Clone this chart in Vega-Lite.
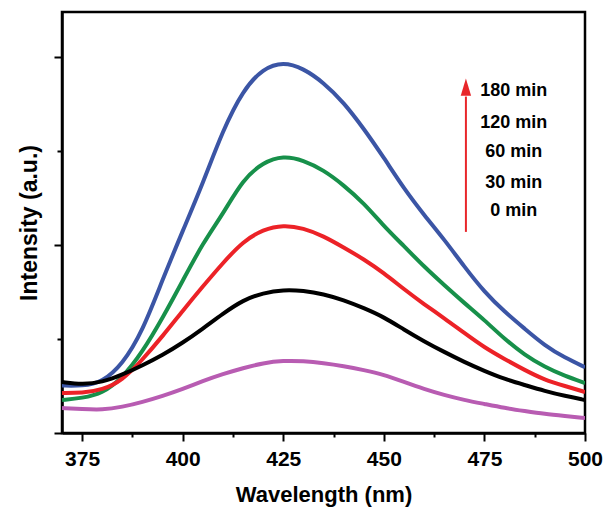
{
  "$schema": "https://vega.github.io/schema/vega-lite/v6.json",
  "width": 523,
  "height": 421,
  "autosize": {"type": "none"},
  "padding": {"left": 62, "top": 12, "right": 21, "bottom": 78},
  "background": "white",
  "config": {
    "view": {"stroke": "black", "strokeWidth": 2.5},
    "font": "Liberation Sans"
  },
  "datasets": {
    "spectra": [
      {"wl":370,"I":505,"s":"180 min"},{"wl":375,"I":500,"s":"180 min"},{"wl":380,"I":540,"s":"180 min"},{"wl":385,"I":730,"s":"180 min"},{"wl":390,"I":1080,"s":"180 min"},{"wl":395,"I":1633,"s":"180 min"},{"wl":400,"I":2150,"s":"180 min"},{"wl":405,"I":2656,"s":"180 min"},{"wl":410,"I":3223,"s":"180 min"},{"wl":415,"I":3650,"s":"180 min"},{"wl":420,"I":3880,"s":"180 min"},{"wl":425,"I":3950,"s":"180 min"},{"wl":430,"I":3880,"s":"180 min"},{"wl":435,"I":3730,"s":"180 min"},{"wl":440,"I":3520,"s":"180 min"},{"wl":445,"I":3240,"s":"180 min"},{"wl":450,"I":2930,"s":"180 min"},{"wl":455,"I":2600,"s":"180 min"},{"wl":460,"I":2320,"s":"180 min"},{"wl":465,"I":2060,"s":"180 min"},{"wl":470,"I":1770,"s":"180 min"},{"wl":475,"I":1500,"s":"180 min"},{"wl":480,"I":1290,"s":"180 min"},{"wl":485,"I":1110,"s":"180 min"},{"wl":490,"I":930,"s":"180 min"},{"wl":495,"I":800,"s":"180 min"},{"wl":500,"I":700,"s":"180 min"},
      {"wl":370,"I":351,"s":"120 min"},{"wl":375,"I":372,"s":"120 min"},{"wl":380,"I":420,"s":"120 min"},{"wl":385,"I":585,"s":"120 min"},{"wl":390,"I":862,"s":"120 min"},{"wl":395,"I":1223,"s":"120 min"},{"wl":400,"I":1620,"s":"120 min"},{"wl":405,"I":2020,"s":"120 min"},{"wl":410,"I":2330,"s":"120 min"},{"wl":415,"I":2700,"s":"120 min"},{"wl":420,"I":2880,"s":"120 min"},{"wl":425,"I":2950,"s":"120 min"},{"wl":430,"I":2904,"s":"120 min"},{"wl":435,"I":2798,"s":"120 min"},{"wl":440,"I":2638,"s":"120 min"},{"wl":445,"I":2447,"s":"120 min"},{"wl":450,"I":2202,"s":"120 min"},{"wl":455,"I":1989,"s":"120 min"},{"wl":460,"I":1770,"s":"120 min"},{"wl":465,"I":1574,"s":"120 min"},{"wl":470,"I":1383,"s":"120 min"},{"wl":475,"I":1202,"s":"120 min"},{"wl":480,"I":1000,"s":"120 min"},{"wl":485,"I":830,"s":"120 min"},{"wl":490,"I":702,"s":"120 min"},{"wl":495,"I":606,"s":"120 min"},{"wl":500,"I":532,"s":"120 min"},
      {"wl":370,"I":426,"s":"60 min"},{"wl":375,"I":426,"s":"60 min"},{"wl":380,"I":457,"s":"60 min"},{"wl":385,"I":560,"s":"60 min"},{"wl":390,"I":780,"s":"60 min"},{"wl":395,"I":1030,"s":"60 min"},{"wl":400,"I":1300,"s":"60 min"},{"wl":405,"I":1560,"s":"60 min"},{"wl":410,"I":1810,"s":"60 min"},{"wl":415,"I":2040,"s":"60 min"},{"wl":420,"I":2165,"s":"60 min"},{"wl":425,"I":2215,"s":"60 min"},{"wl":430,"I":2181,"s":"60 min"},{"wl":435,"I":2096,"s":"60 min"},{"wl":440,"I":1975,"s":"60 min"},{"wl":445,"I":1850,"s":"60 min"},{"wl":450,"I":1702,"s":"60 min"},{"wl":455,"I":1530,"s":"60 min"},{"wl":460,"I":1370,"s":"60 min"},{"wl":465,"I":1223,"s":"60 min"},{"wl":470,"I":1064,"s":"60 min"},{"wl":475,"I":910,"s":"60 min"},{"wl":480,"I":787,"s":"60 min"},{"wl":485,"I":670,"s":"60 min"},{"wl":490,"I":564,"s":"60 min"},{"wl":495,"I":500,"s":"60 min"},{"wl":500,"I":436,"s":"60 min"},
      {"wl":370,"I":543,"s":"30 min"},{"wl":375,"I":515,"s":"30 min"},{"wl":380,"I":540,"s":"30 min"},{"wl":385,"I":620,"s":"30 min"},{"wl":390,"I":720,"s":"30 min"},{"wl":395,"I":830,"s":"30 min"},{"wl":400,"I":960,"s":"30 min"},{"wl":405,"I":1110,"s":"30 min"},{"wl":410,"I":1270,"s":"30 min"},{"wl":415,"I":1415,"s":"30 min"},{"wl":420,"I":1490,"s":"30 min"},{"wl":425,"I":1525,"s":"30 min"},{"wl":430,"I":1515,"s":"30 min"},{"wl":435,"I":1479,"s":"30 min"},{"wl":440,"I":1415,"s":"30 min"},{"wl":445,"I":1330,"s":"30 min"},{"wl":450,"I":1234,"s":"30 min"},{"wl":455,"I":1100,"s":"30 min"},{"wl":460,"I":975,"s":"30 min"},{"wl":465,"I":862,"s":"30 min"},{"wl":470,"I":755,"s":"30 min"},{"wl":475,"I":660,"s":"30 min"},{"wl":480,"I":574,"s":"30 min"},{"wl":485,"I":511,"s":"30 min"},{"wl":490,"I":447,"s":"30 min"},{"wl":495,"I":394,"s":"30 min"},{"wl":500,"I":351,"s":"30 min"},
      {"wl":370,"I":266,"s":"0 min"},{"wl":375,"I":255,"s":"0 min"},{"wl":380,"I":245,"s":"0 min"},{"wl":385,"I":277,"s":"0 min"},{"wl":390,"I":330,"s":"0 min"},{"wl":395,"I":394,"s":"0 min"},{"wl":400,"I":468,"s":"0 min"},{"wl":405,"I":553,"s":"0 min"},{"wl":410,"I":628,"s":"0 min"},{"wl":415,"I":691,"s":"0 min"},{"wl":420,"I":745,"s":"0 min"},{"wl":425,"I":770,"s":"0 min"},{"wl":430,"I":766,"s":"0 min"},{"wl":435,"I":745,"s":"0 min"},{"wl":440,"I":713,"s":"0 min"},{"wl":445,"I":670,"s":"0 min"},{"wl":450,"I":620,"s":"0 min"},{"wl":455,"I":543,"s":"0 min"},{"wl":460,"I":468,"s":"0 min"},{"wl":465,"I":404,"s":"0 min"},{"wl":470,"I":351,"s":"0 min"},{"wl":475,"I":309,"s":"0 min"},{"wl":480,"I":266,"s":"0 min"},{"wl":485,"I":234,"s":"0 min"},{"wl":490,"I":202,"s":"0 min"},{"wl":495,"I":181,"s":"0 min"},{"wl":500,"I":160,"s":"0 min"}
    ],
    "labels": [
      {"wl":482.3,"I":3640,"label":"180 min"},
      {"wl":482.3,"I":3298,"label":"120 min"},
      {"wl":482.3,"I":2989,"label":"60 min"},
      {"wl":482.3,"I":2660,"label":"30 min"},
      {"wl":482.3,"I":2362,"label":"0 min"}
    ],
    "arrow": [
      {"wl":470.4,"I":2140,"I2":3580}
    ],
    "arrowhead": [
      {"wl":470.4,"I":3680}
    ]
  },
  "layer": [
    {
      "data": {"name": "spectra"},
      "mark": {"type": "line", "strokeWidth": 4, "interpolate": "basis", "clip": true},
      "encoding": {
        "x": {
          "field": "wl", "type": "quantitative",
          "scale": {"domain": [370, 500], "nice": false, "zero": false},
          "axis": {
            "title": "Wavelength (nm)",
            "values": [375, 387.5, 400, 412.5, 425, 437.5, 450, 462.5, 475, 487.5, 500],
            "labelExpr": "datum.value % 25 === 0 ? datum.label : ''",
            "tickSize": {"condition": {"test": "datum.value % 25 === 0", "value": 8}, "value": 4},
            "tickWidth": 2, "tickColor": "black",
            "domainColor": "black", "domainWidth": 2.5,
            "grid": false,
            "labelFont": "Liberation Sans", "labelFontWeight": "bold", "labelFontSize": 21, "labelColor": "black",
            "labelPadding": 7, "labelFlush": false, "labelOverlap": false,
            "titleFont": "Liberation Sans", "titleFontWeight": "bold", "titleFontSize": 22, "titleColor": "black",
            "titlePadding": 15
          }
        },
        "y": {
          "field": "I", "type": "quantitative",
          "scale": {"domain": [0, 4480], "nice": false, "zero": false},
          "axis": {
            "title": "Intensity (a.u.)",
            "values": [0, 1000, 2000, 3000, 4000],
            "labels": false,
            "tickSize": {"condition": {"test": "datum.value % 2000 === 0", "value": 8}, "value": 5},
            "tickWidth": 2, "tickColor": "black",
            "domainColor": "black", "domainWidth": 2.5,
            "grid": false,
            "titleFont": "Liberation Sans", "titleFontWeight": "bold", "titleFontSize": 23, "titleColor": "black",
            "titlePadding": 12
          }
        },
        "color": {
          "field": "s", "type": "nominal",
          "scale": {"domain": ["180 min", "120 min", "60 min", "30 min", "0 min"], "range": ["#3B55A5", "#17904A", "#EC2227", "#000000", "#B85CB2"]},
          "legend": null
        },
        "order": {"field": "wl"}
      }
    },
    {
      "data": {"name": "arrow"},
      "mark": {"type": "rule", "color": "#E8262A", "strokeWidth": 2},
      "encoding": {
        "x": {"field": "wl", "type": "quantitative"},
        "y": {"field": "I", "type": "quantitative"},
        "y2": {"field": "I2"}
      }
    },
    {
      "data": {"name": "arrowhead"},
      "mark": {"type": "point", "shape": "M -0.6 1 L 0 -1 L 0.6 1 Z", "filled": true, "color": "#E8262A", "size": 300, "opacity": 1},
      "encoding": {
        "x": {"field": "wl", "type": "quantitative"},
        "y": {"field": "I", "type": "quantitative"}
      }
    },
    {
      "data": {"name": "labels"},
      "mark": {"type": "text", "font": "Liberation Sans", "fontWeight": "bold", "fontSize": 18, "color": "black", "align": "center", "baseline": "middle"},
      "encoding": {
        "x": {"field": "wl", "type": "quantitative"},
        "y": {"field": "I", "type": "quantitative"},
        "text": {"field": "label"}
      }
    }
  ]
}
